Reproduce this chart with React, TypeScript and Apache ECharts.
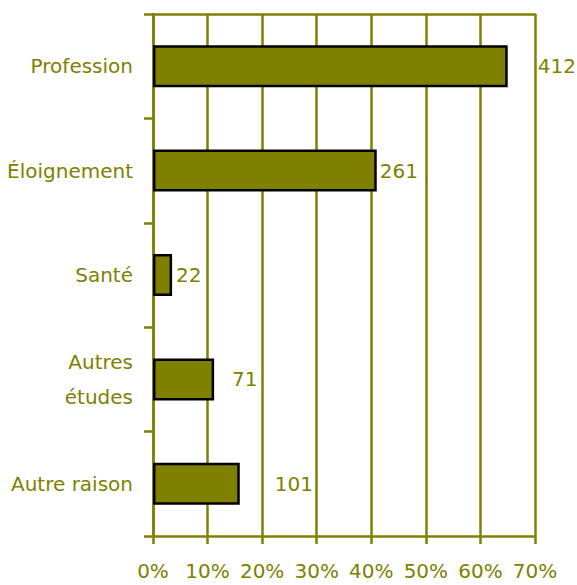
import React, { useEffect, useRef } from "react";
import * as echarts from "echarts";

const categories = ["Profession", "Éloignement", "Santé", "Autres\nétudes", "Autre raison"];
const percentValues = [65.0, 41.0, 3.5, 11.2, 15.9];
const countLabels = [412, 261, 22, 71, 101];
const xTicks = [0, 10, 20, 30, 40, 50, 60, 70];

const OLIVE = "#808000";
const FONT = "DejaVu Sans";
const labelDistances = [30, 3, 4, 18, 35];

export default function App() {
  const ref = useRef<HTMLDivElement>(null);
  useEffect(() => {
    if (!ref.current) return;
    const chart = echarts.init(ref.current, undefined, { renderer: "svg" });
    chart.setOption({
      animation: false,
      backgroundColor: "#ffffff",
      grid: { left: 153, right: 42, top: 14, bottom: 49, containLabel: false },
      xAxis: [
        {
          type: "value",
          min: xTicks[0],
          max: xTicks[xTicks.length - 1],
          interval: 10,
          axisLine: { show: true, lineStyle: { color: OLIVE, width: 2.5 } },
          axisTick: { show: true, length: 8, lineStyle: { color: OLIVE, width: 2.5 } },
          axisLabel: {
            color: OLIVE,
            fontFamily: FONT,
            fontSize: 20,
            margin: 25,
            formatter: (v: number) => `${v}%`,
          },
          splitLine: { show: true, lineStyle: { color: OLIVE, width: 2.5 } },
        },
        {
          type: "value",
          position: "top",
          min: 0,
          max: 70,
          axisLine: { show: true, onZero: false, lineStyle: { color: OLIVE, width: 2.5 } },
          axisTick: { show: false },
          axisLabel: { show: false },
          splitLine: { show: false },
        },
      ],
      yAxis: {
        type: "category",
        inverse: true,
        data: categories,
        axisLine: { show: true, lineStyle: { color: OLIVE, width: 2.5 } },
        axisTick: { show: true, length: 9, lineStyle: { color: OLIVE, width: 2.5 } },
        axisLabel: {
          color: OLIVE,
          fontFamily: FONT,
          fontSize: 20,
          lineHeight: 35,
          margin: 20,
        },
      },
      series: [
        {
          type: "bar",
          xAxisIndex: 0,
          barWidth: 42,
          data: percentValues.map((v, i) => ({
            value: v,
            label: { distance: labelDistances[i] },
          })),
          itemStyle: { color: OLIVE, borderColor: "#000000", borderWidth: 2.5 },
          label: {
            show: true,
            position: "right",
            color: OLIVE,
            fontFamily: FONT,
            fontSize: 20,
            formatter: (p: any) => String(countLabels[p.dataIndex]),
          },
        },
      ],
    });
    return () => chart.dispose();
  }, []);
  return (
    <div
      ref={ref}
      style={{ position: "fixed", left: 0, top: 0, width: 577, height: 585 }}
    />
  );
}
